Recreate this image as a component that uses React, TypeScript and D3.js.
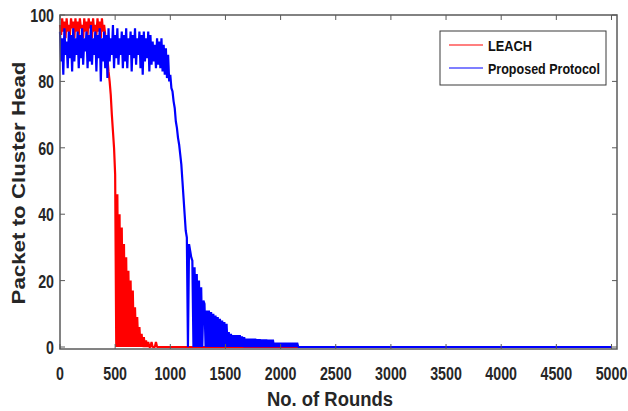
import { useEffect, useRef } from "react";
import * as d3 from "d3";

// sampling step of the hand-read series (rounds)
const roundStep = 10;
const lastRound = 5000;

// LEACH, read every 10 rounds from 0 to 900, then 0 up to lastRound
const leachValues = [
  97, 94, 99, 95, 98, 93, 99, 95, 97, 94, 99, 96, 98, 93, 99, 95, 98, 94, 99, 96,
  97, 93, 99, 95, 98, 94, 99, 96, 98, 93, 99, 95, 97, 94, 99, 95, 98, 93, 99, 95,
  97, 94, 92, 87, 83, 80, 76, 70, 65, 60, 52, 0, 46, 0, 40, 0, 36, 0, 31, 0,
  27, 0, 23, 0, 20, 0, 17, 0, 12, 0, 9, 0, 6, 0, 4, 0, 3, 0, 2, 0,
  1.5, 0, 0, 1.5, 0, 0, 0, 1.5, 0, 0, 0,
];

// Proposed Protocol, read every 10 rounds from 0 to 2160, then 0 up to lastRound
const proposedValues = [
  // 0 - 850
  95, 86, 93, 82, 96, 88, 92, 84, 95, 87, 94, 83, 96, 86, 93, 88, 95, 84, 94, 87,
  96, 85, 93, 89, 95, 84, 94, 86, 97, 85, 93, 88, 95, 83, 94, 87, 96, 80, 93, 86,
  95, 84, 94, 81, 96, 86, 93, 88, 97, 84, 94, 87, 96, 85, 93, 88, 95, 84, 94, 86,
  96, 84, 93, 88, 95, 83, 94, 87, 96, 85, 93, 88, 95, 84, 94, 82, 95, 86, 93, 87,
  95, 83, 94, 85, 92, 86,
  // 860 - 1150
  91, 84, 93, 85, 92, 84, 93, 83, 91, 82, 90, 81, 88, 80, 82, 78, 77, 74, 72, 68,
  66, 63, 61, 58, 55, 50, 45, 40, 35, 33,
  // 1160 - 1310
  0, 31, 29, 27, 26, 0, 24, 0, 22, 0, 20, 0, 18, 0, 14, 13,
  // 1320 - 1690
  0, 11, 0, 11, 0, 10.5, 0, 10, 0, 9.5, 0, 9, 0, 8.5, 0, 8, 0, 7.5, 0, 7,
  0, 4.5, 0, 4, 0, 3.6, 0, 3.6, 0, 3.6, 0, 3.6, 0, 3.2, 0, 3, 0, 2.5,
  // 1700 - 2160
  0, 2.5, 0, 2.5, 0, 2.5, 0, 2.5, 0, 2.4, 0, 2.4, 0, 2.3, 0, 2.3, 0, 2.3, 0, 2.2,
  0, 2.2, 0, 2.2, 0, 1.3, 0, 1.3, 0, 1.3, 0, 1.3, 0, 1.3, 0, 1.3, 0, 1.3, 0, 1.3,
  0, 1.3, 0, 1.3, 0, 1.3, 0,
];

const seriesNames = ["LEACH", "Proposed Protocol"];
const seriesColors = ["#ff0000", "#0000ff"];
const xTicks = [0, 500, 1000, 1500, 2000, 2500, 3000, 3500, 4000, 4500, 5000];
const yTicks = [0, 20, 40, 60, 80, 100];

const toPoints = (values: number[]) => {
  const pts: [number, number][] = values.map((v, i) => [i * roundStep, v]);
  pts.push([lastRound, 0]);
  return pts;
};

const App = () => {
  const ref = useRef<SVGSVGElement>(null);

  useEffect(() => {
    const width = 628;
    const height = 411;
    const box = { left: 60, right: 617, top: 15, bottom: 349 };
    const font = "'Liberation Sans', Arial, sans-serif";
    const squeeze = 0.75; // tick digits are condensed in the original

    const svg = d3.select(ref.current).attr("width", width).attr("height", height);
    svg.selectAll("*").remove();

    const x = d3.scaleLinear().domain([0, 5050]).range([box.left, box.right]);
    const y = d3.scaleLinear().domain([-0.6, 100]).range([box.bottom, box.top]);

    svg.append("rect").attr("width", width).attr("height", height).attr("fill", "white");

    // data lines
    const line = d3
      .line<[number, number]>()
      .x((d) => x(d[0]))
      .y((d) => y(d[1]));

    [leachValues, proposedValues].forEach((vals, i) => {
      svg
        .append("path")
        .datum(toPoints(vals))
        .attr("fill", "none")
        .attr("stroke", seriesColors[i])
        .attr("stroke-width", 2.2)
        .attr("stroke-linejoin", "bevel")
        .attr("d", line);
    });

    // box
    svg
      .append("rect")
      .attr("x", box.left)
      .attr("y", box.top)
      .attr("width", box.right - box.left)
      .attr("height", box.bottom - box.top)
      .attr("fill", "none")
      .attr("stroke", "#5a5a5a")
      .attr("stroke-width", 1.5);

    // ticks (inward, all four sides)
    const tk = 5;
    const ticks = svg.append("g").attr("stroke", "#5a5a5a").attr("stroke-width", 1);
    xTicks.forEach((t) => {
      ticks.append("line").attr("x1", x(t)).attr("x2", x(t)).attr("y1", box.bottom).attr("y2", box.bottom - tk);
      ticks.append("line").attr("x1", x(t)).attr("x2", x(t)).attr("y1", box.top).attr("y2", box.top + tk);
    });
    yTicks.forEach((t) => {
      ticks.append("line").attr("x1", box.left).attr("x2", box.left + tk).attr("y1", y(t)).attr("y2", y(t));
      ticks.append("line").attr("x1", box.right).attr("x2", box.right - tk).attr("y1", y(t)).attr("y2", y(t));
    });

    // tick labels
    svg
      .append("g")
      .attr("font-family", font)
      .attr("font-weight", "bold")
      .attr("font-size", 19)
      .attr("fill", "#262626")
      .attr("text-anchor", "middle")
      .selectAll("text")
      .data(xTicks)
      .join("text")
      .attr("transform", (d) => `translate(${x(d)},380) scale(${squeeze},1)`)
      .text((d) => d);

    svg
      .append("g")
      .attr("font-family", font)
      .attr("font-weight", "bold")
      .attr("font-size", 19)
      .attr("fill", "#262626")
      .attr("text-anchor", "end")
      .selectAll("text")
      .data(yTicks)
      .join("text")
      .attr("transform", (d) => `translate(54,${y(d) + 7}) scale(${squeeze},1)`)
      .text((d) => d);

    // axis titles
    svg
      .append("text")
      .attr("x", 330)
      .attr("y", 406)
      .attr("text-anchor", "middle")
      .attr("font-family", font)
      .attr("font-weight", "bold")
      .attr("font-size", 20)
      .attr("fill", "#262626")
      .attr("textLength", 126)
      .attr("lengthAdjust", "spacingAndGlyphs")
      .text("No. of Rounds");

    svg
      .append("text")
      .attr("transform", "translate(25,183) rotate(-90)")
      .attr("text-anchor", "middle")
      .attr("font-family", font)
      .attr("font-weight", "bold")
      .attr("font-size", 19)
      .attr("fill", "#262626")
      .attr("textLength", 243)
      .attr("lengthAdjust", "spacingAndGlyphs")
      .text("Packet to Cluster Head");

    // legend
    const lg = svg.append("g");
    lg.append("rect")
      .attr("x", 440)
      .attr("y", 31)
      .attr("width", 166)
      .attr("height", 54)
      .attr("fill", "white")
      .attr("stroke", "#3a3a3a")
      .attr("stroke-width", 1);
    const legendLengths = [44, 112];
    seriesNames.forEach((name, i) => {
      const ly = 45 + i * 23;
      lg.append("line")
        .attr("x1", 449)
        .attr("x2", 483)
        .attr("y1", ly)
        .attr("y2", ly)
        .attr("stroke", seriesColors[i])
        .attr("stroke-width", 1.2);
      lg.append("text")
        .attr("x", 488)
        .attr("y", ly + 6)
        .attr("font-family", font)
        .attr("font-weight", "bold")
        .attr("font-size", 15.5)
        .attr("fill", "#111")
        .attr("textLength", legendLengths[i])
        .attr("lengthAdjust", "spacingAndGlyphs")
        .text(name);
    });
  }, []);

  return <svg ref={ref} style={{ position: "absolute", left: 0, top: 0 }} />;
};

export default App;
